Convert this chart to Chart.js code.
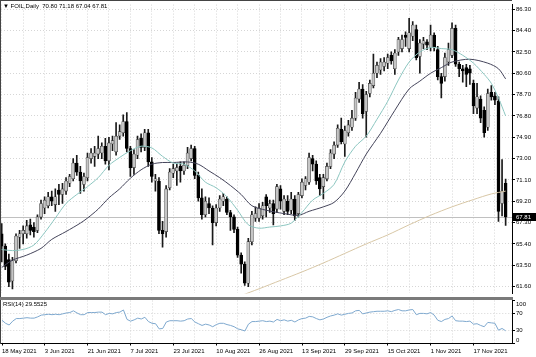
<!DOCTYPE html>
<html><head><meta charset="utf-8">
<script src="https://cdn.jsdelivr.net/npm/chart.js@4.4.1/dist/chart.umd.min.js"></script>
<style>
html,body{margin:0;padding:0;background:#fff;overflow:hidden}
#wrap{position:relative;width:536px;height:357px;background:#fff}
canvas{position:absolute;left:0}
#cMain{top:0}
#cRsi{top:298px}
.txt{position:absolute;font-family:"Liberation Sans",Arial,sans-serif;font-size:6px;color:#000;white-space:pre;line-height:7px}
.ln{position:absolute;background:#000}
</style></head><body>
<div id="wrap">
<canvas id="cMain" width="536" height="298"></canvas>
<canvas id="cRsi" width="536" height="59"></canvas>
<div class="ln" style="left:0;top:0;width:1px;height:344px;background:#444"></div>
<div class="ln" style="left:0;top:0;width:512px;height:1px;background:#444"></div>
<div class="ln" style="left:0;top:297px;width:513px;height:3px;background:#7a7a7a"></div>
<div class="txt" style="left:3px;top:3px">▼ FOIL,Daily  70.80 71.18 67.04 67.81</div>
<div class="txt" style="left:3px;top:301px">RSI(14) 29.5525</div>
</div>
<script>
// ---- data ----
const dateLabels = ["18 May 2021","3 Jun 2021","21 Jun 2021","7 Jul 2021","23 Jul 2021","10 Aug 2021","26 Aug 2021","13 Sep 2021","29 Sep 2021","15 Oct 2021","1 Nov 2021","17 Nov 2021"];
const labelBars = [0,12,24,36,48,60,72,84,96,108,120,132];
const gridBars = [0,6,12,18,24,30,36,42,48,54,60,66,72,78,84,90,96,102,108,114,120,126,132,138];
const priceTicks = [61.60,63.50,65.40,67.30,69.20,71.10,73.00,74.90,76.80,78.70,80.60,82.50,84.40,86.30];
const rsiTicks = [0,30,70,100];

const open = [
66.3,65.2,64.0,62.1,63.9,66.0,66.3,66.3,67.1,66.9,
66.6,67.8,68.6,68.8,69.6,68.9,70.2,69.8,70.1,70.8,
71.2,72.6,71.8,70.7,71.3,73.0,73.2,73.4,73.5,74.1,
72.8,74.3,73.6,75.0,75.3,76.3,73.9,72.2,73.3,74.8,
74.0,75.3,72.7,71.0,71.0,66.6,66.5,70.4,71.7,71.9,
72.3,71.9,72.4,73.0,73.9,71.5,69.5,68.0,69.0,68.6,
67.3,68.6,69.2,69.4,68.2,67.8,66.7,64.4,63.6,61.9,
65.6,67.7,67.7,67.9,69.6,68.6,69.0,68.5,70.3,68.3,
69.2,68.4,69.4,68.1,69.7,70.6,70.9,73.0,72.5,71.3,
70.5,71.2,72.3,73.4,74.2,75.6,74.3,75.3,75.8,76.6,
78.3,79.2,77.2,78.8,79.5,80.6,80.9,81.2,81.5,82.2,
81.0,82.5,82.8,84.0,82.8,83.9,84.5,82.1,83.2,83.4,
82.9,84.0,82.7,80.3,80.3,81.6,82.2,84.6,81.4,81.0,
81.1,81.0,79.7,77.5,78.3,77.3,75.8,78.9,78.6,78.1,
69.0,70.80];
const high = [
67.2,65.4,64.5,64.2,66.3,66.6,67.0,67.5,67.6,67.3,
68.0,69.3,69.6,70.0,70.1,70.3,70.7,70.8,71.3,71.6,
73.0,73.3,72.3,71.7,73.5,73.9,74.1,75.0,74.4,74.8,
74.9,75.0,76.2,76.0,76.9,77.1,74.1,73.8,75.0,75.2,
75.6,75.6,73.1,71.6,71.3,67.4,70.6,72.1,72.5,72.5,
72.7,72.7,74.0,74.2,74.1,71.8,70.3,69.6,69.5,68.8,
68.9,69.7,69.9,69.6,68.4,68.0,66.9,64.6,63.8,65.9,
68.3,68.7,69.0,69.1,69.8,69.3,69.3,70.7,70.6,69.7,
69.7,70.0,69.7,70.0,71.2,71.4,73.5,73.3,72.8,71.6,
71.6,72.6,73.8,74.5,76.0,76.6,75.9,76.4,77.3,78.9,
79.8,79.6,79.0,80.0,82.3,81.6,81.9,82.0,82.3,82.5,
82.7,83.8,84.0,84.3,85.5,85.2,84.9,83.6,83.8,83.6,
84.9,84.2,83.0,80.6,82.4,83.3,85.1,84.9,81.6,81.3,
81.4,81.3,80.0,79.7,78.6,77.6,79.2,79.5,78.9,78.5,
72.9,71.18];
const low = [
63.8,63.1,61.6,61.4,63.7,65.0,65.4,65.9,66.2,66.0,
66.4,67.6,68.1,68.6,68.8,68.3,68.9,69.0,69.8,70.5,
71.0,71.5,69.9,70.1,71.0,72.6,72.3,73.0,73.0,72.5,
72.0,73.7,73.3,74.7,75.0,73.6,71.4,71.6,73.0,73.6,
73.7,72.3,70.9,70.1,66.3,65.1,66.0,70.2,71.3,70.6,
70.9,71.6,72.1,72.8,71.2,69.2,67.6,67.8,68.1,65.3,
67.0,68.3,68.8,68.0,66.6,66.4,64.2,62.8,61.7,61.6,
65.3,67.4,67.4,67.6,67.8,68.2,67.1,68.2,68.5,68.0,
68.0,68.1,67.5,67.8,69.5,70.2,70.7,71.9,70.7,69.7,
69.4,71.0,72.1,73.0,74.0,74.3,73.2,75.0,75.5,76.4,
78.0,76.6,74.9,78.5,79.3,80.2,80.5,80.8,81.0,81.4,
80.5,82.2,82.5,83.0,82.5,83.5,81.8,80.6,82.8,82.7,
82.6,82.6,80.0,78.4,79.9,81.3,82.0,81.2,80.3,79.8,
79.4,79.6,77.0,77.0,76.2,74.9,75.5,78.2,77.8,67.4,
67.9,67.04];
const close = [
65.2,63.4,62.0,63.9,66.1,66.3,66.6,67.0,66.6,66.5,
67.8,69.0,69.3,69.6,69.2,69.6,69.8,70.3,71.0,71.4,
72.6,71.8,71.0,71.4,73.1,73.5,73.5,73.9,74.1,72.8,
74.4,74.6,75.0,75.4,76.3,73.9,72.2,73.4,74.7,74.0,
75.3,72.7,71.4,71.2,66.6,66.3,70.3,71.8,72.1,72.2,
71.9,72.4,73.5,73.9,71.5,69.5,68.0,69.2,68.6,67.3,
68.6,69.4,69.6,68.2,67.8,66.7,64.4,63.6,61.9,65.6,
68.0,68.1,68.6,68.8,68.8,69.0,68.1,70.5,69.2,69.4,
68.3,69.4,67.9,69.8,70.9,71.2,73.1,72.5,71.0,70.3,
71.3,72.3,73.5,74.2,75.7,74.5,75.5,76.0,76.6,78.4,
79.2,77.0,78.7,79.7,80.6,81.3,81.6,81.6,82.0,81.7,
82.4,83.6,83.6,83.8,84.2,84.9,82.0,83.3,83.5,83.1,
84.0,82.9,80.3,79.7,82.0,82.7,84.6,81.4,81.0,80.8,
80.5,80.6,77.7,78.5,76.6,75.3,78.8,78.5,78.2,68.3,
70.1,67.81];

// moving averages (bar index, value)
const maFastIdx = [0,3,6,9,12,15,18,21,24,27,30,33,36,39,42,45,48,51,54,57,60,63,66,69,72,75,78,81,84,87,90,93,96,99,102,105,108,111,114,117,120,123,126,129,132,135,137,139,141];
const maFastVal = [64.9,64.8,64.9,65.3,66.4,67.7,69.0,69.8,70.5,71.3,72.4,73.1,73.7,74.1,73.95,73.2,72.6,72.5,71.9,70.9,70.4,69.6,68.4,67.1,66.8,66.9,67.0,67.25,68.2,69.3,69.9,70.7,72.7,74.1,75.0,76.5,78.1,80.0,81.6,82.5,82.9,82.8,82.7,82.2,81.5,80.5,79.7,78.4,76.8];
const maSlowIdx = [0,3,7,11,14,18,22,24,27,30,33,36,39,42,45,48,52,55,58,61,64,67,70,74,79,83,86,90,93,96,99,102,106,110,114,117,120,123,126,131,136,139,141];
const maSlowVal = [63.3,63.95,64.4,65.0,65.8,66.5,67.25,67.7,68.5,69.5,70.3,71.25,72.0,72.5,72.65,72.65,72.7,72.5,71.9,71.3,70.6,69.8,68.8,68.4,68.1,67.95,68.3,68.7,69.1,70.1,71.7,73.4,75.25,77.3,79.2,79.9,80.6,81.1,81.6,81.85,81.5,81.0,80.1];
const ma200Idx = [67,72,78,84,90,96,102,108,114,120,126,132,137,141];
const ma200Val = [60.8,61.4,62.15,62.9,63.7,64.55,65.4,66.2,67.1,67.95,68.7,69.35,69.85,70.1];

const rsi = [
54,47,43,52,58,58,59,60,59,59,
62,66,67,68,67,68,67,69,71,72,
76,71,67,67,72,72,72,73,73,67,
70,69,72,73,78,56,52,55,59,57,
61,51,47,46,34,35,50,53,53,53,
52,53,57,58,50,46,42,45,43,39,
44,47,47,44,42,39,34,32,29,45,
51,51,52,53,51,52,50,56,53,55,
52,54,50,55,58,59,63,62,58,55,
57,61,64,66,69,66,68,70,71,76,
77,69,71,73,74,75,75,75,76,74,
77,79,76,76,78,79,67,70,70,69,
72,66,54,51,56,58,64,53,52,52,
51,52,45,46,42,39,49,48,47,31,
35,29.55];

// ---- styling ----
const FONT = '"Liberation Sans", Arial, sans-serif';
Chart.defaults.font.family = FONT;
Chart.defaults.font.size = 6;
Chart.defaults.color = '#000';
const BULL = '#c6c6c6', BEAR = '#000';
const GRID = '#d6d6d6';
const XMIN = -0.2, XMAX = 142.78;
const lastPrice = close[close.length - 1];

const bodies = close.map((c, i) => ({x: i, y: [open[i], c]}));
const wicks = high.map((h, i) => ({x: i, y: [low[i], h]}));
const bodyColors = close.map((c, i) => c >= open[i] ? BULL : BEAR);
const bodyBorders = close.map((c, i) => c >= open[i] ? '#3a3a3a' : BEAR);
const pts = (idx, val) => idx.map((x, k) => ({x, y: val[k]}));

const xGridScale = (showLabels) => ({
  type: 'linear', min: XMIN, max: XMAX, offset: false,
  afterBuildTicks: s => { s.ticks = gridBars.map(v => ({value: v})); },
  grid: {offset: false, color: GRID, lineWidth: 1, drawTicks: showLabels, tickLength: 2,
         tickColor: c => (labelBars.includes(c.tick && c.tick.value) ? '#000' : 'rgba(0,0,0,0)'), tickBorderDash: []},
  border: {display: showLabels, color: '#000', dash: [1, 2]},
  ticks: showLabels ? {
    display: true, autoSkip: false, maxRotation: 0, minRotation: 0, align: 'start', padding: 2,
    font: {size: 6, family: FONT}, color: '#000',
    callback: v => { const k = labelBars.indexOf(v); return k >= 0 ? dateLabels[k] : ''; }
  } : {display: false},
  afterFit: s => { s.height = showLabels ? 13.5 : 0; }
});

const priceLinePlugin = {
  id: 'priceLine',
  beforeDatasetsDraw(chart) {
    const {ctx, chartArea: a, scales: {y}} = chart;
    const py = Math.round(y.getPixelForValue(lastPrice)) + 0.5;
    ctx.save(); ctx.strokeStyle = '#c0c0c0'; ctx.lineWidth = 1;
    ctx.beginPath(); ctx.moveTo(a.left, py); ctx.lineTo(a.right, py); ctx.stroke(); ctx.restore();
  },
  afterDraw(chart) {
    const {ctx, chartArea: a, scales: {y}} = chart;
    const py = y.getPixelForValue(lastPrice);
    ctx.save(); ctx.fillStyle = '#000'; ctx.fillRect(a.right + 1, Math.round(py) - 4, 24, 8);
    ctx.fillStyle = '#fff'; ctx.font = '6px ' + FONT; ctx.textBaseline = 'middle'; ctx.textAlign = 'left';
    ctx.fillText(lastPrice.toFixed(2), a.right + 4, py + 0.5); ctx.restore();
  }
};

new Chart(document.getElementById('cMain'), {
  type: 'bar',
  data: {datasets: [
    {type: 'line', data: pts(maFastIdx, maFastVal), borderColor: '#8cc6c0', borderWidth: 1, pointRadius: 0, tension: 0.3, order: 1},
    {type: 'line', data: pts(maSlowIdx, maSlowVal), borderColor: '#44445a', borderWidth: 1, pointRadius: 0, tension: 0.3, order: 1},
    {type: 'line', data: pts(ma200Idx, ma200Val), borderColor: '#d8c7a6', borderWidth: 1, pointRadius: 0, tension: 0.3, order: 1},
    {type: 'bar', data: bodies, backgroundColor: bodyColors, borderColor: bodyBorders, borderWidth: 0.6, borderSkipped: false,
     grouped: false, barPercentage: 1, categoryPercentage: 1, maxBarThickness: 3, minBarLength: 1, order: 2},
    {type: 'bar', data: wicks, backgroundColor: '#1a1a1a', borderWidth: 0, grouped: false,
     barPercentage: 1, categoryPercentage: 1, maxBarThickness: 1, order: 3}
  ]},
  options: {
    responsive: false, animation: false, events: [], devicePixelRatio: 1,
    layout: {padding: {left: 1, top: 1, bottom: 1, right: 0}},
    plugins: {legend: {display: false}, tooltip: {enabled: false}},
    scales: {
      x: xGridScale(false),
      y: {
        position: 'right', min: 60.99, max: 86.717,
        afterBuildTicks: s => { s.ticks = priceTicks.map(v => ({value: v})); },
        grid: {color: GRID, tickLength: 3, tickColor: '#000', tickBorderDash: []},
        border: {display: true, color: '#000', dash: [1, 2]},
        ticks: {padding: 1, font: {size: 6, family: FONT}, color: '#000', callback: v => Number(v).toFixed(2)},
        afterFit: s => { s.width = 24; }
      }
    }
  },
  plugins: [priceLinePlugin]
});

const rsiLabelPlugin = {
  id: 'rsiLabels',
  afterDraw(chart) {
    const {ctx, chartArea: a, scales: {y}} = chart;
    ctx.save(); ctx.fillStyle = '#000'; ctx.font = '6px ' + FONT; ctx.textBaseline = 'middle'; ctx.textAlign = 'left';
    rsiTicks.forEach(v => {
      const py = Math.min(Math.max(y.getPixelForValue(v), a.top + 3.5), a.bottom - 3.5);
      ctx.fillText(String(v), a.right + 4, py);
    });
    ctx.restore();
  }
};

new Chart(document.getElementById('cRsi'), {
  type: 'line',
  data: {datasets: [
    {data: rsi.map((v, i) => ({x: i, y: v})), borderColor: '#7fa9cf', borderWidth: 1, pointRadius: 0, tension: 0}
  ]},
  options: {
    responsive: false, animation: false, events: [], devicePixelRatio: 1,
    layout: {padding: {left: 1, top: 2.5, bottom: 0, right: 0}},
    plugins: {legend: {display: false}, tooltip: {enabled: false}},
    scales: {
      x: xGridScale(true),
      y: {
        position: 'right', min: 0, max: 100,
        afterBuildTicks: s => { s.ticks = rsiTicks.map(v => ({value: v})); },
        grid: {color: c => (c.tick && (c.tick.value === 30 || c.tick.value === 70)) ? GRID : 'rgba(0,0,0,0)',
               tickLength: 3, tickColor: '#000', tickBorderDash: []},
        border: {display: true, color: '#000', dash: [1, 2]},
        ticks: {display: false},
        afterFit: s => { s.width = 24; }
      }
    }
  },
  plugins: [rsiLabelPlugin]
});
</script>
</body></html>
